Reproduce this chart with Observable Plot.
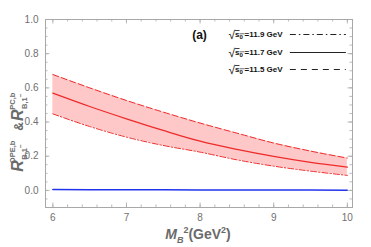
<!DOCTYPE html>
<html><head><meta charset="utf-8">
<script src="https://cdn.jsdelivr.net/npm/d3@7"></script>
<script src="https://cdn.jsdelivr.net/npm/@observablehq/plot@0.6"></script>
<style>
body{margin:0;background:#fff;}
svg{font-family:Arial,"Liberation Sans",sans-serif;}
</style>
</head><body><div id="c"></div>
<script>
// M_B^2 (GeV^2)
const mb2 = [6, 6.5, 7, 7.5, 8, 8.5, 9, 9.5, 10];
// R^{OPE,b} central (sqrt s0 = 11.7 GeV)
const central = [0.569, 0.491, 0.419, 0.351, 0.288, 0.240, 0.199, 0.164, 0.136];
// upper edge (dashed)
const upper = [0.678, 0.600, 0.526, 0.458, 0.394, 0.335, 0.277, 0.230, 0.189];
// lower edge (dash-dot)
const lower = [0.448, 0.374, 0.312, 0.263, 0.224, 0.179, 0.142, 0.113, 0.088];
// R^{PC,b} (blue)
const pc = [0.005, 0.0045, 0.004, 0.0035, 0.003, 0.0025, 0.002, 0.0018, 0.0015];
// legend
const legendLabels = ["11.9", "11.7", "11.5"];
const legendDash = ["6,3,1.5,3", "none", "6,5"];
const xTicks = [6, 7, 8, 9, 10];
const yTicks = [0, 0.2, 0.4, 0.6, 0.8, 1.0];

const rows = mb2.map((x, i) => ({x, c: central[i], u: upper[i], l: lower[i], p: pc[i]}));
const xMinor = d3.range(6, 10.001, 0.2).map(v => +v.toFixed(2));
const yMinor = d3.range(-0.1, 1.0001, 0.05).map(v => +v.toFixed(2));

const W = 371, H = 247, mL = 45, mR = 19, mT = 19, mB = 40;
const xDom = [5.9, 10.07], yDom = [-0.1, 1.0];
const pxX = (xDom[1] - xDom[0]) / (W - mL - mR);
const pxY = (yDom[1] - yDom[0]) / (H - mT - mB);
const red = "#ee2b2b";
const frameCol = "#a8a8a8";

function tickRulesX(vals, len) {
  return [
    Plot.ruleX(vals, {x: d => d, y1: yDom[0], y2: yDom[0] + len * pxY, stroke: frameCol, strokeWidth: 0.8}),
    Plot.ruleX(vals, {x: d => d, y1: yDom[1], y2: yDom[1] - len * pxY, stroke: frameCol, strokeWidth: 0.8})
  ];
}
function tickRulesY(vals, len) {
  return [
    Plot.ruleY(vals, {y: d => d, x1: xDom[0], x2: xDom[0] + len * pxX, stroke: frameCol, strokeWidth: 0.8}),
    Plot.ruleY(vals, {y: d => d, x1: xDom[1], x2: xDom[1] - len * pxX, stroke: frameCol, strokeWidth: 0.8})
  ];
}

const legRowsPx = [34, 52, 69];
const legend = legendLabels.map((s, i) => ({s, dash: legendDash[i], y: yDom[1] - (legRowsPx[i] - mT) * pxY}));
const legendLines = legend.map(d => Plot.ruleY([d], {y: "y", x1: 10.0 - 57 * pxX, x2: 10.0 - 1 * pxX, stroke: "#222", strokeWidth: 1, strokeDasharray: d.dash}));

const chart = Plot.plot({
  width: W, height: H,
  marginLeft: mL, marginRight: mR, marginTop: mT, marginBottom: mB,
  x: {domain: xDom},
  y: {domain: yDom},
  style: {color: "#707070", fontSize: "10px", background: "#fff"},
  marks: [
    Plot.areaY(rows, {x: "x", y1: "l", y2: "u", fill: "#ffc8c8"}),
    Plot.lineY(rows, {x: "x", y: "u", stroke: red, strokeWidth: 1, strokeDasharray: "6,3", curve: "monotone-x"}),
    Plot.lineY(rows, {x: "x", y: "l", stroke: red, strokeWidth: 1, strokeDasharray: "6,2,1.5,2", curve: "monotone-x"}),
    Plot.lineY(rows, {x: "x", y: "c", stroke: red, strokeWidth: 1.3, curve: "monotone-x"}),
    Plot.lineY(rows, {x: "x", y: "p", stroke: "#2233ee", strokeWidth: 1.5}),
    Plot.frame({stroke: frameCol, strokeWidth: 1}),
    ...tickRulesX(xMinor, 2.5), ...tickRulesX(xTicks, 4.5),
    ...tickRulesY(yMinor, 2.5), ...tickRulesY(yTicks, 4.5),
    Plot.axisX(xTicks, {tickSize: 0, tickPadding: 6, label: null, tickFormat: d => String(d)}),
    Plot.axisY(yTicks, {tickSize: 0, tickPadding: 7, label: null, tickFormat: d3.format(".1f")}),
    ...legendLines,
    Plot.text(legend, {y: "y", x: 6 + (228 - 52.4) * pxX, text: d => "\u221A s0 =" + d.s + " GeV", textAnchor: "start", fontWeight: "bold", fontSize: 8, fill: "#111", className: "leg"}),
    Plot.text(["(a)"], {x: 6 + (199 - 52.4) * pxX, y: yDom[1] - (35 - mT) * pxY, text: d => d, fontWeight: "bold", fontSize: 12, fill: "#111"})
  ]
});
document.getElementById("c").appendChild(chart);

const svg = d3.select(chart);
svg.selectAll("g.leg text").each(function() {
  const t = d3.select(this);
  const val = t.text().match(/=([\d.]+)/)[1];
  t.text(null);
  t.append("tspan").attr("font-size", 12).attr("font-weight", "normal").attr("dy", "2").text("\u221A");
  t.append("tspan").attr("dy", "-2").attr("text-decoration", "overline").text("s");
  t.append("tspan").attr("font-size", 6).attr("dy", "1.5").attr("text-decoration", "overline").text("0\u00A0");
  t.append("tspan").attr("dy", "-1.5").text("=" + val + " GeV");
});

// y axis label (rotated), built piece by piece
const g = svg.append("g").attr("transform", "translate(23,166) rotate(-90)")
  .attr("fill", "#6a6a6a").attr("font-weight", "bold");
let cur = 0;
function put(str, x, y, size, italic) {
  const t = g.append("text").attr("x", x).attr("y", y).attr("font-size", size).text(str);
  if (italic) t.attr("font-style", "italic");
  return t;
}
function rterm(sup) {
  const r = put("R", cur, 0, 16, true);
  cur += r.node().getComputedTextLength() + 2.5;
  const s = put(sup, cur, -8, 7.5, false);
  const b = put("B,1", cur, 3.5, 7.5, false);
  b.append("tspan").attr("font-size", 6.5).attr("dy", -3.5).text("\u2212");
  cur += Math.max(s.node().getComputedTextLength(), b.node().getComputedTextLength()) + 3;
}
rterm("OPE,b");
const amp = put("&", cur, 0, 12, false);
cur += amp.node().getComputedTextLength() + 2.5;
rterm("PC,b");

// x axis label
const xl = svg.append("text").attr("x", 198).attr("y", 239).attr("text-anchor", "middle")
  .attr("fill", "#6a6a6a").attr("font-weight", "bold").attr("font-size", 14);
xl.append("tspan").attr("font-style", "italic").text("M");
xl.append("tspan").attr("font-size", 9).attr("font-style", "italic").attr("dy", 4).text("B");
xl.append("tspan").attr("font-size", 9).attr("dy", -10).text("2");
xl.append("tspan").attr("dy", 6).text("(GeV");
xl.append("tspan").attr("font-size", 9).attr("dy", -6).text("2");
xl.append("tspan").attr("dy", 6).text(")");
</script>
</body></html>
